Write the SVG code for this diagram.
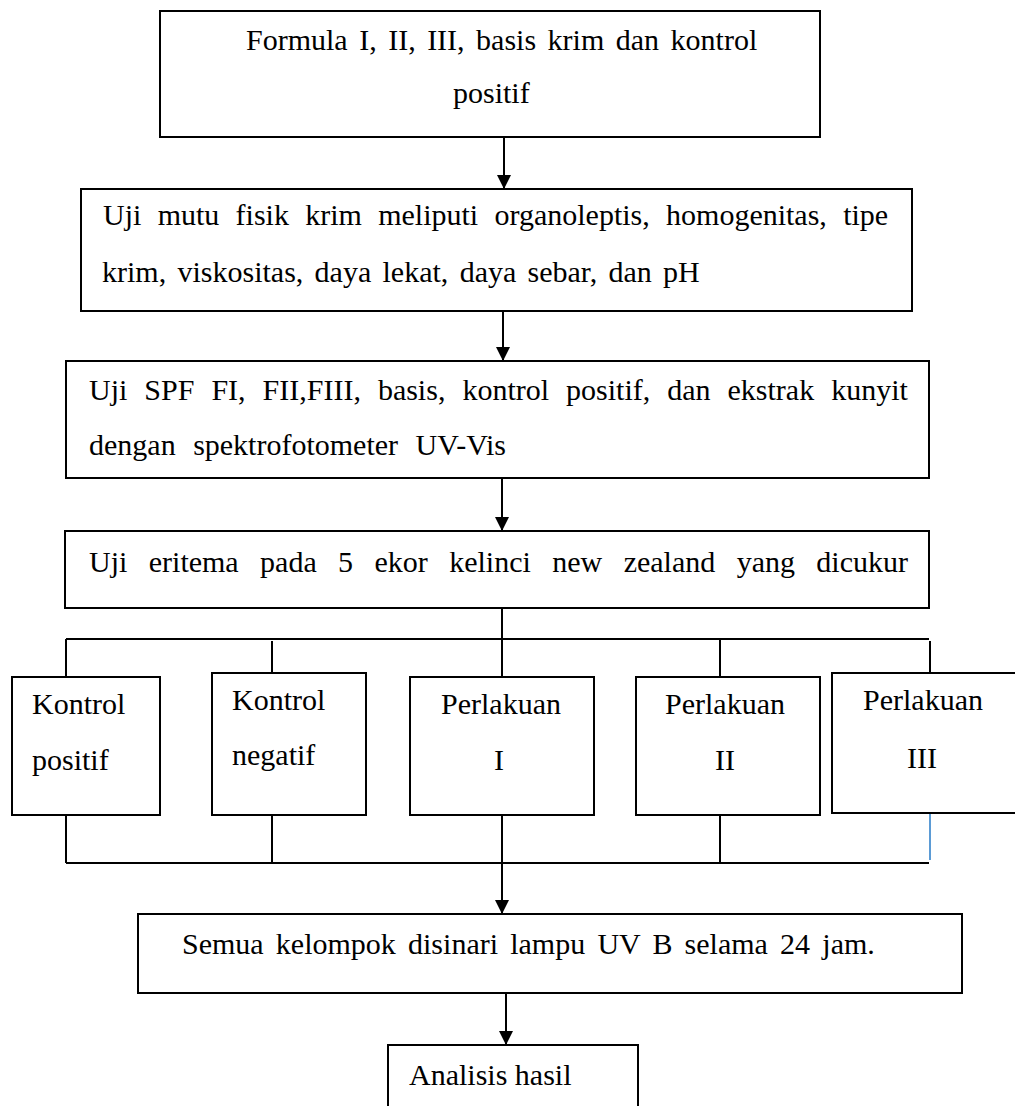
<svg xmlns="http://www.w3.org/2000/svg" width="1015" height="1106" viewBox="0 0 1015 1106">
<style>
.box{fill:#fff;stroke:#000;stroke-width:2}
.t{font-family:"Liberation Serif","Times New Roman",serif;font-size:30px;fill:#000}
.ln{stroke:#000;stroke-width:2;fill:none}
.blue{stroke:#5B9BD5;stroke-width:2;fill:none}
</style>
<defs>
<marker id="ah" markerUnits="userSpaceOnUse" markerWidth="14" markerHeight="14" refX="14" refY="7" orient="auto">
<path d="M0,0 L14,7 L0,14 z" fill="#000"/>
</marker>
</defs>
<rect width="1015" height="1106" fill="#fff"/>
<g id="connectors">
<line class="ln" x1="504" y1="137" x2="504" y2="189" marker-end="url(#ah)"/>
<line class="ln" x1="503" y1="311" x2="503" y2="361" marker-end="url(#ah)"/>
<line class="ln" x1="502" y1="478" x2="502" y2="531" marker-end="url(#ah)"/>
<line class="ln" x1="502" y1="608" x2="502" y2="639"/>
<line class="ln" x1="66" y1="639" x2="929" y2="639"/>
<line class="ln" x1="66" y1="639" x2="66" y2="677"/>
<line class="ln" x1="272" y1="641" x2="272" y2="673"/>
<line class="ln" x1="502" y1="639" x2="502" y2="677"/>
<line class="ln" x1="720" y1="639" x2="720" y2="677"/>
<line class="ln" x1="930" y1="641" x2="930" y2="673"/>
<line class="ln" x1="66" y1="815" x2="66" y2="863"/>
<line class="ln" x1="272" y1="815" x2="272" y2="863"/>
<line class="ln" x1="502" y1="815" x2="502" y2="863"/>
<line class="ln" x1="720" y1="815" x2="720" y2="863"/>
<line class="blue" x1="930" y1="813" x2="930" y2="860"/>
<line class="ln" x1="66" y1="863" x2="929" y2="863"/>
<line class="ln" x1="502" y1="863" x2="502" y2="914" marker-end="url(#ah)"/>
<line class="ln" x1="506" y1="993" x2="506" y2="1045" marker-end="url(#ah)"/>
</g>
<g id="n1">
<rect class="box" x="160" y="11" width="660" height="126"/>
<text class="t" x="246" y="50" word-spacing="4">Formula I, II, III, basis krim dan kontrol</text>
<text class="t" x="453" y="103">positif</text>
</g>
<g id="n2">
<rect class="box" x="81" y="189" width="831" height="122"/>
<text class="t" x="103" y="225" word-spacing="8.8">Uji mutu fisik krim meliputi organoleptis, homogenitas, tipe</text>
<text class="t" x="102" y="282" word-spacing="3.8">krim, viskositas, daya lekat, daya sebar, dan pH</text>
</g>
<g id="n3">
<rect class="box" x="66" y="361" width="863" height="117"/>
<text class="t" x="89" y="400" word-spacing="9.5">Uji SPF FI, FII,FIII, basis, kontrol positif, dan ekstrak kunyit</text>
<text class="t" x="89" y="455" word-spacing="10">dengan spektrofotometer UV-Vis</text>
</g>
<g id="n4">
<rect class="box" x="65" y="531" width="864" height="77"/>
<text class="t" x="89" y="572" word-spacing="13.9">Uji eritema pada 5 ekor kelinci new zealand yang dicukur</text>
</g>
<g id="n5">
<rect class="box" x="12" y="677" width="148" height="138"/>
<text class="t" x="32" y="714">Kontrol</text>
<text class="t" x="32" y="770">positif</text>
</g>
<g id="n6">
<rect class="box" x="212" y="673" width="154" height="142"/>
<text class="t" x="232" y="710">Kontrol</text>
<text class="t" x="232" y="765">negatif</text>
</g>
<g id="n7">
<rect class="box" x="410" y="677" width="184" height="138"/>
<text class="t" x="441" y="714">Perlakuan</text>
<text class="t" x="494" y="770">I</text>
</g>
<g id="n8">
<rect class="box" x="636" y="677" width="184" height="138"/>
<text class="t" x="665" y="714">Perlakuan</text>
<text class="t" x="715" y="770">II</text>
</g>
<g id="n9">
<rect class="box" x="832" y="673" width="200" height="140"/>
<text class="t" x="863" y="710">Perlakuan</text>
<text class="t" x="907" y="768">III</text>
</g>
<g id="n10">
<rect class="box" x="138" y="914" width="824" height="79"/>
<text class="t" x="182" y="954" word-spacing="4.7">Semua kelompok disinari lampu UV B selama 24 jam.</text>
</g>
<g id="n11">
<rect class="box" x="388" y="1045" width="250" height="80"/>
<text class="t" x="409" y="1085">Analisis hasil</text>
</g>
</svg>
